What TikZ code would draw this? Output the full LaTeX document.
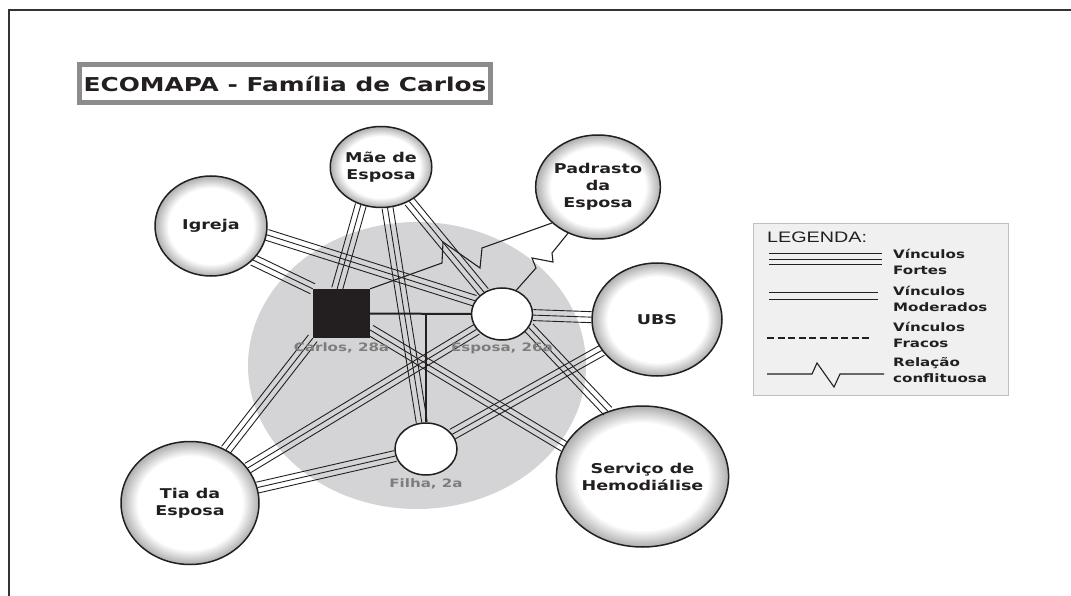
\documentclass[tikz,border=0pt]{standalone}
\usepackage{fontspec}
\usetikzlibrary{shapes.geometric, decorations.pathreplacing, calc, positioning}

\newfontfamily\ecofont{DejaVu Sans}[FakeStretch=1.3]
\newfontfamily\legfont{Liberation Sans}[FakeStretch=1.3]

\definecolor{fundo}{RGB}{212,212,214}
\definecolor{tinta}{RGB}{35,31,32}
\definecolor{cinzarot}{RGB}{125,125,125}
\pgfdeclareradialshading{bolasombra}{\pgfpointorigin}{color(0bp)=(white); color(19bp)=(white); color(25bp)=(black!32); color(50bp)=(black!32)}

\tikzset{
    bola/.style = {ellipse, draw = tinta, line width = 1.5pt, shading = bolasombra, inner sep = 0pt,
                   text = tinta, align = center, font = \ecofont\bfseries\fontsize{13.5}{17}\selectfont},
    pessoa/.style = {ellipse, draw = tinta, line width = 1.5pt, fill = white,
                     minimum width = 61pt, minimum height = 52pt},
    rotulo/.style = {inner sep = 0pt, text = cinzarot, font = \ecofont\bfseries\fontsize{11.6}{14}\selectfont},
    legtexto/.style = {anchor = west, inner sep = 0pt, align = left, text = tinta,
                       font = \ecofont\bfseries\fontsize{11.6}{16}\selectfont},
    fio/.style = {line width = 0.9pt, tinta},
    forte/.style = {decorate, decoration = {show path construction, lineto code = {
        \draw [fio] (\tikzinputsegmentfirst) -- (\tikzinputsegmentlast);
        \draw [fio] ($(\tikzinputsegmentfirst)!5.5pt!90:(\tikzinputsegmentlast)$) -- ($(\tikzinputsegmentlast)!5.5pt!-90:(\tikzinputsegmentfirst)$);
        \draw [fio] ($(\tikzinputsegmentfirst)!5.5pt!-90:(\tikzinputsegmentlast)$) -- ($(\tikzinputsegmentlast)!5.5pt!90:(\tikzinputsegmentfirst)$);
    }}},
    moderado/.style = {decorate, decoration = {show path construction, lineto code = {
        \draw [fio] ($(\tikzinputsegmentfirst)!3.5pt!90:(\tikzinputsegmentlast)$) -- ($(\tikzinputsegmentlast)!3.5pt!-90:(\tikzinputsegmentfirst)$);
        \draw [fio] ($(\tikzinputsegmentfirst)!3.5pt!-90:(\tikzinputsegmentlast)$) -- ($(\tikzinputsegmentlast)!3.5pt!90:(\tikzinputsegmentfirst)$);
    }}},
    fraco/.style = {fio, line width = 1.3pt, dash pattern = on 7pt off 3.6pt},
    conflito/.style = {fio, line width = 1.1pt, line join = miter},
    casal/.style = {line width = 2pt, tinta},
}

\begin{document}
\begin{tikzpicture} [x = 1pt, y = -1pt]
    \useasboundingbox (0,0) rectangle (1071,596);

    % area da familia
    \fill [fundo] (417,365.5) ellipse [x radius = 169, y radius = 143.5];

    \node (igreja) [bola, minimum width = 112pt, minimum height = 100pt] at (211,226) {Igreja};
    \node (mae) [bola, minimum width = 99pt, minimum height = 81pt] at (381,167) {Mãe de\\Esposa};
    \node (padrasto) [bola, minimum width = 120pt, minimum height = 104pt] at (598,187) {Padrasto\\da\\Esposa};
    \node (ubs) [bola, minimum width = 130pt, minimum height = 113pt] at (657,319.5) {UBS};
    \node (hemo) [bola, minimum width = 165pt, minimum height = 141pt] at (642.5,476.5) {Serviço de\\Hemodiálise};
    \node (tia) [bola, minimum width = 138pt, minimum height = 123pt] at (190,503) {Tia da\\Esposa};

    \node (carlos) [rectangle, fill = tinta, minimum width = 57pt, minimum height = 49pt] at (341.5,313.5) {};
    \node (esposa) [pessoa] at (502,314) {};
    \node (filha) [pessoa, minimum width = 62pt] at (426,449) {};

    % vinculos
    \draw [forte] (igreja.351) -- (esposa.154);
    \draw [forte] (igreja.321) -- (carlos.north west);
    \draw [forte] (mae.242) -- (carlos.100);
    \draw [forte] (mae) -- (filha);
    \draw [forte] (mae) -- (esposa);
    \draw [forte] (esposa) -- (ubs);
    \draw [forte] (esposa.333) -- (hemo.118);
    \draw [forte] (esposa) -- (tia);
    \draw [forte] (carlos.south west) -- (tia.56);
    \draw [forte] (carlos.330) -- (hemo.159);
    \draw [forte] (filha) -- (tia);
    \draw [forte] (filha) -- (ubs);

    \draw [conflito] (padrasto.218) -- (482,248) -- (480,268) -- (443,242) -- (442,263) -- (carlos.north east);
    \draw [conflito] (padrasto.237) -- (552,253) -- (553,262) -- (532,258) -- (536,268) -- (esposa.59);

    \draw [casal] (carlos) -- (esposa);
    \draw [casal] (filha) -- (filha |- carlos);

    \node (lcarlos) [rotulo, below = 4pt of carlos] {Carlos, 28a};
    \node (lesposa) [rotulo, below = 2pt of esposa] {Esposa, 26a};
    \node (lfilha) [rotulo, below = 3pt of filha] {Filha, 2a};

    % legenda
    \node (legenda) [rectangle, draw = black!25, fill = black!6, minimum width = 255pt, minimum height = 172pt] at (880.5,309) {};
    \node (legtitulo) [anchor = west, inner sep = 0pt, text = tinta, font = \legfont\fontsize{15.2}{18}\selectfont] at (767,237) {LEGENDA:};
    \draw [forte] (769,259) -- (882,259);
    \draw [moderado] (769,295.5) -- (878,295.5);
    \draw [fraco] (767,338) -- (873,338);
    \draw [conflito] (767,374) -- (812,374) -- (817,363) -- (834,387) -- (840,374) -- (884,374);
    \node (tforte) [legtexto] at (893,262) {Vínculos\\Fortes};
    \node (tmoderado) [legtexto] at (893,298.5) {Vínculos\\Moderados};
    \node (tfraco) [legtexto] at (893,334.5) {Vínculos\\Fracos};
    \node (tconflito) [legtexto] at (893,370.5) {Relação\\conflituosa};

    % titulo
    \node (titulo) [draw = black!45, line width = 5pt, fill = white, minimum width = 411pt, minimum height = 38pt,
                    text = tinta, font = \ecofont\bfseries\fontsize{19.1}{23}\selectfont] at (285,83.5) {ECOMAPA - Família de Carlos};

    \draw [line width = 2pt, black!80] (1071,10) -- (9,10) -- (9,596);
\end{tikzpicture}
\end{document}
